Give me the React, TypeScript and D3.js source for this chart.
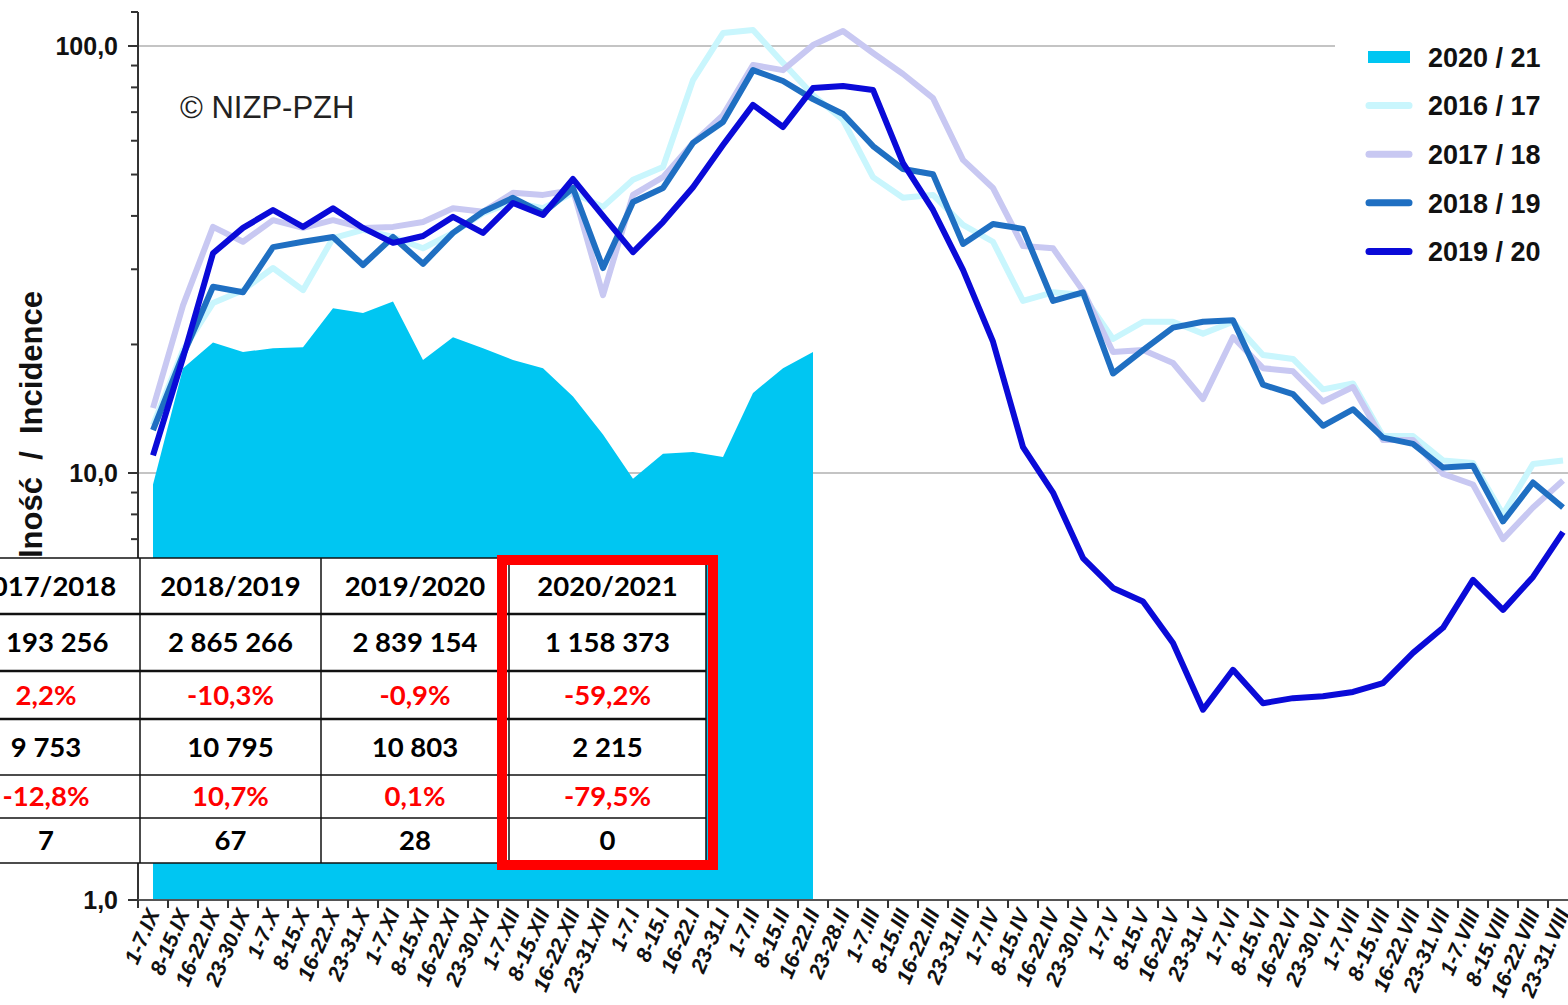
import React from 'react';
import * as d3 from 'd3';

// weekly reporting periods, September to August
const weeks = [
  '1-7.IX', '8-15.IX', '16-22.IX', '23-30.IX',
  '1-7.X', '8-15.X', '16-22.X', '23-31.X',
  '1-7.XI', '8-15.XI', '16-22.XI', '23-30.XI',
  '1-7.XII', '8-15.XII', '16-22.XII', '23-31.XII',
  '1-7.I', '8-15.I', '16-22.I', '23-31.I',
  '1-7.II', '8-15.II', '16-22.II', '23-28.II',
  '1-7.III', '8-15.III', '16-22.III', '23-31.III',
  '1-7.IV', '8-15.IV', '16-22.IV', '23-30.IV',
  '1-7.V', '8-15.V', '16-22.V', '23-31.V',
  '1-7.VI', '8-15.VI', '16-22.VI', '23-30.VI',
  '1-7.VII', '8-15.VII', '16-22.VII', '23-31.VII',
  '1-7.VIII', '8-15.VIII', '16-22.VIII', '23-31.VIII',
];

// incidence per 100 000
const season1617 = [
  12.95, 19.4, 25.0, 26.8, 30.2, 26.8, 35.5, 37.1, 35.7, 33.6, 36.5, 40.6,
  43.1, 41.7, 45.3, 42.0, 48.6, 52.1, 83.2, 107.2, 109, 91.3, 76.8, 67.1,
  49.3, 44.1, 44.8, 38.1, 34.8, 25.3, 26.5, 26.1, 20.6, 22.6, 22.6, 21.2,
  22.6, 18.9, 18.5, 15.7, 16.2, 12.2, 12.2, 10.7, 10.55, 8.0, 10.5, 10.7,
];
const season1718 = [
  14.2, 24.7, 37.7, 34.8, 39.1, 37.5, 39.1, 37.5, 37.7, 38.7, 41.7, 40.9,
  45.3, 44.8, 46.0, 26.1, 44.8, 49.3, 59.3, 68.9, 90.3, 87.8, 100.5, 108.4,
  96.3, 86.0, 75.5, 54.1, 46.5, 34.0, 33.6, 26.7, 19.2, 19.4, 18.1, 14.9,
  20.8, 17.6, 17.3, 14.7, 15.9, 11.95, 11.95, 9.95, 9.4, 7.0, 8.3, 9.6,
];
const season1819 = [
  12.6, 18.9, 27.3, 26.5, 33.8, 34.8, 35.7, 30.7, 35.7, 30.9, 36.5, 40.9,
  44.1, 40.6, 46.5, 30.2, 43.1, 46.5, 59.3, 66.4, 87.8, 82.8, 75.1, 69.3,
  58.3, 51.5, 50.1, 34.4, 38.3, 37.3, 25.3, 26.5, 17.1, 19.4, 21.9, 22.6,
  22.8, 16.1, 15.3, 12.9, 14.1, 12.1, 11.7, 10.3, 10.4, 7.7, 9.5, 8.3,
];
const season1920 = [
  11.0, 18.6, 32.7, 37.5, 41.3, 37.7, 41.7, 37.5, 34.6, 35.9, 39.8, 36.5,
  42.9, 40.2, 48.8, 40.0, 32.9, 38.7, 46.7, 58.6, 72.8, 64.6, 79.7, 80.6,
  78.9, 53.2, 41.3, 29.9, 20.3, 11.5, 9.0, 6.32, 5.38, 5.0, 4.0, 2.79,
  3.46, 2.89, 2.97, 3.0, 3.07, 3.22, 3.79, 4.34, 5.62, 4.78, 5.71, 7.27,
];
const season2021 = [
  9.4, 17.6, 20.2, 19.2, 19.6, 19.7, 24.3, 23.7, 25.2, 18.4, 20.8, 19.6,
  18.4, 17.6, 15.1, 12.3, 9.7, 11.1, 11.2, 10.9, 15.4, 17.6, 19.2,
];

const yTicks = [1, 10, 100];
const yTickLabels = ['1,0', '10,0', '100,0'];

const legendLabels = ['2020 / 21', '2016 / 17', '2017 / 18', '2018 / 19', '2019 / 20'];

const tableHeaders = ['2017/2018', '2018/2019', '2019/2020', '2020/2021'];
const tableCases = ['3 193 256', '2 865 266', '2 839 154', '1 158 373'];
const tableCasesChange = ['2,2%', '-10,3%', '-0,9%', '-59,2%'];
const tableHosp = ['9 753', '10 795', '10 803', '2 215'];
const tableHospChange = ['-12,8%', '10,7%', '0,1%', '-79,5%'];
const tableDeaths = ['7', '67', '28', '0'];

const C2021 = '#00c6f2';
const C1617 = '#c9f6fd';
const C1718 = '#c8c8f2';
const C1819 = '#1f6fc2';
const C1920 = '#0a0ad8';

const ARIAL = '"Liberation Sans", Arial, sans-serif';
const CALIBRI = 'Lato, "Open Sans", sans-serif';

const W = 1568;
const H = 1005;

export default function App() {
  const x = d3.scaleBand<string>()
    .domain(weeks)
    .range([138, 138 + weeks.length * 30]);
  const y = d3.scaleLog()
    .domain([1, 100])
    .range([900, 46]);
  const cx = (i: number) => (x(weeks[i]) as number) + x.bandwidth() / 2;

  const line = d3.line<number>().x((d, i) => cx(i)).y(d => y(d));
  const area = d3.area<number>().x((d, i) => cx(i)).y0(y(1)).y1(d => y(d));

  const lines = [
    { data: season1617, color: C1617 },
    { data: season1718, color: C1718 },
    { data: season1819, color: C1819 },
    { data: season1920, color: C1920 },
  ];

  // minor ticks of the log axis
  const minor: number[] = [];
  [1, 10].forEach(base => {
    for (let k = 2; k <= 9; k++) minor.push(base * k);
  });

  // table layout
  const colEdges = [-48, 140, 321, 509, 706];
  const rowEdges = [558, 614, 671, 719, 775, 818, 863];
  const rows = [
    { cells: tableHeaders, color: '#000' },
    { cells: tableCases, color: '#000' },
    { cells: tableCasesChange, color: '#ff0000' },
    { cells: tableHosp, color: '#000' },
    { cells: tableHospChange, color: '#ff0000' },
    { cells: tableDeaths, color: '#000' },
  ];
  const thick = [false, true, true, true, false, false, false];

  const legendItems = [
    { label: legendLabels[0], color: C2021, area: true },
    { label: legendLabels[1], color: C1617 },
    { label: legendLabels[2], color: C1718 },
    { label: legendLabels[3], color: C1819 },
    { label: legendLabels[4], color: C1920 },
  ];

  return (
    <svg width={W} height={H} style={{ position: 'absolute', left: 0, top: 0, display: 'block', background: '#fff' }}>
      {/* grid lines */}
      <line x1={138} x2={1335} y1={y(100)} y2={y(100)} stroke="#c4c4c4" strokeWidth={2} />
      <line x1={138} x2={W} y1={y(10)} y2={y(10)} stroke="#c4c4c4" strokeWidth={2} />

      {/* 2020/21 area */}
      <path d={area(season2021) || ''} fill={C2021} />

      {lines.map((s, i) => (
        <path key={i} d={line(s.data) || ''} fill="none" stroke={s.color}
          strokeWidth={6} strokeLinejoin="round" />
      ))}

      {/* y axis */}
      <line x1={138} x2={138} y1={12} y2={900} stroke="#333" strokeWidth={2} />
      <line x1={131} x2={138} y1={12} y2={12} stroke="#333" strokeWidth={2} />
      {yTicks.map(t => (
        <line key={t} x1={128} x2={138} y1={y(t)} y2={y(t)} stroke="#333" strokeWidth={2} />
      ))}
      {minor.map(t => (
        <line key={'m' + t} x1={131} x2={138} y1={y(t)} y2={y(t)} stroke="#333" strokeWidth={2} />
      ))}
      {yTicks.map((t, i) => (
        <text key={'l' + t} x={118} y={y(t)} dy="0.36em" textAnchor="end"
          fontFamily={ARIAL} fontWeight="bold" fontSize={25} fill="#111">{yTickLabels[i]}</text>
      ))}
      <text transform="translate(42,291) rotate(-90)" textAnchor="end" fontFamily={ARIAL}
        fontWeight="bold" fontSize={31} fill="#111" style={{ whiteSpace: 'pre' }}>
        {'Zapadalność  /  Incidence'}
      </text>

      {/* x axis */}
      <line x1={138} x2={W} y1={900} y2={900} stroke="#555" strokeWidth={2} />
      {d3.range(weeks.length + 1).map(k => (
        <line key={'xt' + k} x1={138 + k * 30} x2={138 + k * 30} y1={900} y2={908}
          stroke="#333" strokeWidth={2} />
      ))}
      {weeks.map((w, i) => (
        <text key={w} transform={`translate(${cx(i) + 7},913) rotate(-67)`} textAnchor="end"
          fontFamily={ARIAL} fontWeight="bold" fontStyle="italic" fontSize={21.5} fill="#111">{w}</text>
      ))}

      {/* copyright */}
      <text x={180} y={118} fontFamily={ARIAL} fontSize={31} fill="#222">© NIZP-PZH</text>

      {/* legend */}
      <rect x={1335} y={30} width={233} height={248} fill="#fff" />
      {legendItems.map((it, i) => {
        const ly = 57 + i * 48.6;
        return (
          <g key={it.label}>
            {it.area
              ? <rect x={1368} y={ly - 6} width={42} height={12} fill={it.color} />
              : <line x1={1369} x2={1409} y1={ly} y2={ly} stroke={it.color} strokeWidth={7} strokeLinecap="round" />}
            <text x={1428} y={ly} dy="0.36em" fontFamily={ARIAL} fontWeight="bold" fontSize={27} fill="#111">{it.label}</text>
          </g>
        );
      })}

      {/* summary table */}
      <rect x={colEdges[0]} y={rowEdges[0]} width={colEdges[4] - colEdges[0]}
        height={rowEdges[6] - rowEdges[0]} fill="#fff" />
      {rowEdges.map((ry, i) => (
        <line key={'r' + i} x1={colEdges[0]} x2={colEdges[4]} y1={ry} y2={ry}
          stroke="#111" strokeWidth={thick[i] ? 2.5 : 1.5} />
      ))}
      {colEdges.map((cxe, i) => (
        <line key={'c' + i} x1={cxe} x2={cxe} y1={rowEdges[0]} y2={rowEdges[6]}
          stroke="#111" strokeWidth={1.5} />
      ))}
      {rows.map((r, ri) => r.cells.map((c, ci) => (
        <text key={ri + '-' + ci} x={(colEdges[ci] + colEdges[ci + 1]) / 2}
          y={(rowEdges[ri] + rowEdges[ri + 1]) / 2} dy="0.36em" textAnchor="middle"
          fontFamily={CALIBRI} fontWeight="bold" fontSize={27.5} fill={r.color}>{c}</text>
      )))}
      <rect x={502} y={560} width={211} height={305} fill="none" stroke="#ff0000" strokeWidth={10} />
    </svg>
  );
}
